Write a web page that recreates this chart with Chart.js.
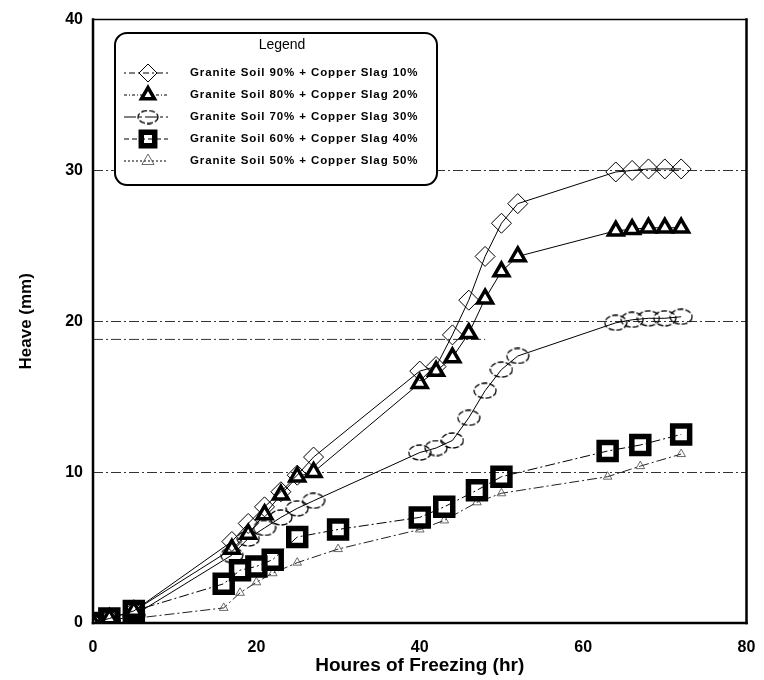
<!DOCTYPE html>
<html lang="en">
<head>
  <meta charset="UTF-8">
  <title>Heave vs Houres of Freezing</title>
  <style>
    html, body { margin: 0; padding: 0; background: #fff; }
    .chartContainer { position: relative; width: 764px; height: 680px; }
  </style>
</head>
<body>
  <div class="chartContainer">
    <canvas id="myChart" width="764" height="680"></canvas>
  </div>
  <script src="https://cdn.jsdelivr.net/npm/chart.js"></script>
  <script>
    // series labels
    const seriesLabels = [
      'Granite Soil 90% + Copper Slag 10%',
      'Granite Soil 80% + Copper Slag 20%',
      'Granite Soil 70% + Copper Slag 30%',
      'Granite Soil 60% + Copper Slag 40%',
      'Granite Soil 50% + Copper Slag 50%'
    ]

    // hours for the 90/10, 80/20 and 70/30 mixes
    const hoursA = [0, 2, 5, 17, 19, 21, 23, 25, 27, 40, 42, 44, 46, 48, 50, 52, 64, 66, 68, 70, 72]
    const heave90 = [0, 0.3, 0.8, 5.4, 6.6, 7.7, 8.7, 9.8, 11.0, 16.7, 17.0, 19.1, 21.4, 24.3, 26.5, 27.8, 29.9, 30.0, 30.1, 30.1, 30.1]
    const heave80 = [0, 0.3, 0.8, 4.9, 5.9, 7.2, 8.5, 9.7, 10.0, 15.9, 16.7, 17.6, 19.2, 21.5, 23.3, 24.3, 26.0, 26.1, 26.2, 26.2, 26.2]
    const heave70 = [0, 0.1, 0.5, 4.5, 5.6, 6.3, 7.0, 7.6, 8.1, 11.3, 11.6, 12.1, 13.6, 15.4, 16.8, 17.7, 19.9, 20.1, 20.2, 20.2, 20.3]

    // hours for the 60/40 and 50/50 mixes
    const hoursB = [0, 2, 5, 16, 18, 20, 22, 25, 30, 40, 43, 47, 50, 63, 67, 72]
    const heave60 = [0, 0.3, 0.8, 2.6, 3.5, 3.75, 4.2, 5.7, 6.2, 7.0, 7.7, 8.8, 9.7, 11.4, 11.8, 12.5]
    const heave50 = [0, 0.05, 0.3, 1.0, 2.0, 2.7, 3.3, 4.0, 4.9, 6.2, 6.8, 8.0, 8.6, 9.7, 10.4, 11.2]

    // stray dash-dot reference line in the original figure
    const strayHours = [0, 48]
    const strayHeave = [18.8, 18.8]

    const xTicks = [0, 20, 40, 60, 80]
    const yTicks = [0, 10, 20, 30, 40]

    const toPoints = (xs, ys) => xs.map((x, i) => ({ x: x, y: ys[i] }))

    // dashed ellipse used as the 70/30 marker
    function makeDashedCircle(w, h) {
      const c = document.createElement('canvas')
      c.width = w
      c.height = h
      const g = c.getContext('2d')
      g.strokeStyle = '#000'
      g.lineWidth = 1.3
      g.setLineDash([6, 2])
      g.beginPath()
      g.ellipse(w / 2, h / 2, w / 2 - 1, h / 2 - 1, 0, 0, Math.PI * 2)
      g.stroke()
      return c
    }
    const circleMark = makeDashedCircle(24, 17)
    const circleMarkSmall = makeDashedCircle(22, 15)

    const dashDot = [10, 3, 2, 3]
    const FONT = "'Liberation Sans', Arial, Helvetica, sans-serif"

    const datasets = [
      {
        label: seriesLabels[0],
        data: toPoints(hoursA, heave90),
        borderColor: '#000', borderWidth: 1,
        pointStyle: 'rectRot', pointRadius: 10,
        pointBorderColor: '#000', pointBorderWidth: 1,
        pointBackgroundColor: 'rgba(255,255,255,0)',
        legendDash: [2, 3, 6, 3], legendRadius: 9
      },
      {
        label: seriesLabels[1],
        data: toPoints(hoursA, heave80),
        borderColor: '#000', borderWidth: 1,
        pointStyle: 'triangle', pointRadius: 8.5,
        pointBorderColor: '#000', pointBorderWidth: 3.5,
        pointBackgroundColor: '#fff',
        legendDash: [3, 2, 1, 2], legendRadius: 7.5
      },
      {
        label: seriesLabels[2],
        data: toPoints(hoursA, heave70),
        borderColor: '#000', borderWidth: 1,
        pointStyle: circleMark, pointRadius: 10,
        legendDash: [12, 3, 3, 3], legendImg: circleMarkSmall
      },
      {
        label: seriesLabels[3],
        data: toPoints(hoursB, heave60),
        borderColor: '#000', borderWidth: 1, borderDash: dashDot,
        pointStyle: 'rect', pointRadius: 12,
        pointBorderColor: '#000', pointBorderWidth: 5.5,
        pointBackgroundColor: 'rgba(255,255,255,0)',
        legendDash: [5, 3], legendRadius: 9.5
      },
      {
        label: seriesLabels[4],
        data: toPoints(hoursB, heave50),
        borderColor: '#222', borderWidth: 1, borderDash: dashDot,
        pointStyle: 'triangle', pointRadius: 5,
        pointBorderColor: '#444', pointBorderWidth: 0.8,
        pointBackgroundColor: 'rgba(255,255,255,0)',
        legendDash: [2, 2], legendRadius: 7
      },
      {
        label: '',
        data: toPoints(strayHours, strayHeave),
        borderColor: '#333', borderWidth: 1, borderDash: dashDot,
        pointRadius: 0, noLegend: true
      }
    ]

    // thick frame round the plot area
    const framePlugin = {
      id: 'frame',
      afterDatasetsDraw(chart) {
        const { ctx, chartArea: a } = chart
        ctx.save()
        ctx.strokeStyle = '#000'
        ctx.lineCap = 'square'
        const side = (w, x1, y1, x2, y2) => {
          ctx.lineWidth = w
          ctx.beginPath(); ctx.moveTo(x1, y1); ctx.lineTo(x2, y2); ctx.stroke()
        }
        side(1.5, a.left, a.top, a.right, a.top)
        side(2.5, a.right, a.top, a.right, a.bottom)
        side(2.5, a.left, a.bottom, a.right, a.bottom)
        side(2.5, a.left, a.top, a.left, a.bottom)
        ctx.restore()
      }
    }

    // rounded legend box inside the plot
    const boxLegend = {
      id: 'boxLegend',
      afterDraw(chart) {
        const { ctx } = chart
        const bx = 115, by = 33, bw = 322, bh = 152
        ctx.save()
        ctx.fillStyle = '#fff'
        ctx.strokeStyle = '#000'
        ctx.lineWidth = 2
        ctx.beginPath()
        ctx.roundRect(bx, by, bw, bh, 12)
        ctx.fill()
        ctx.stroke()

        ctx.fillStyle = '#000'
        ctx.font = '14px ' + FONT
        ctx.textAlign = 'center'
        ctx.textBaseline = 'middle'
        ctx.fillText('Legend', 282, 45)

        const sets = chart.data.datasets.filter(d => !d.noLegend)
        sets.forEach((ds, i) => {
          const y = 73 + i * 22
          ctx.save()
          ctx.strokeStyle = '#000'
          ctx.lineWidth = 1
          ctx.setLineDash(ds.legendDash || [])
          ctx.beginPath(); ctx.moveTo(124, y); ctx.lineTo(168, y); ctx.stroke()
          ctx.setLineDash([])
          if (ds.legendImg) {
            ctx.drawImage(ds.legendImg, 148 - ds.legendImg.width / 2, y - ds.legendImg.height / 2)
          } else if (Chart.helpers && Chart.helpers.drawPoint) {
            ctx.strokeStyle = ds.pointBorderColor
            ctx.fillStyle = ds.pointBackgroundColor
            ctx.lineWidth = ds.pointBorderWidth
            Chart.helpers.drawPoint(ctx, { pointStyle: ds.pointStyle, radius: ds.legendRadius, rotation: 0, borderWidth: ds.pointBorderWidth }, 148, y)
          }
          ctx.restore()

          ctx.fillStyle = '#000'
          ctx.font = 'bold 11.5px ' + FONT
          ctx.textAlign = 'left'
          ctx.textBaseline = 'middle'
          if ('letterSpacing' in ctx) ctx.letterSpacing = '0.9px'
          ctx.fillText(ds.label, 190, y)
        })
        ctx.restore()
      }
    }

    const config = {
      type: 'line',
      data: { datasets: datasets },
      options: {
        responsive: false,
        animation: false,
        events: [],
        layout: { padding: { left: 0, right: 16, top: 14, bottom: 0 } },
        plugins: { legend: { display: false }, tooltip: { enabled: false } },
        elements: { line: { tension: 0 } },
        scales: {
          x: {
            type: 'linear', min: 0, max: 80,
            afterBuildTicks: s => { s.ticks = xTicks.map(v => ({ value: v })) },
            afterFit: s => { s.height = 57 },
            grid: { display: false },
            border: { display: false },
            ticks: { color: '#000', padding: 7, font: { family: FONT, size: 16, weight: 'bold' } },
            title: {
              display: true, text: 'Houres of Freezing (hr)', color: '#000',
              padding: { top: 0, bottom: 3 },
              font: { family: FONT, size: 19, weight: 'bold' }
            }
          },
          y: {
            type: 'linear', min: 0, max: 40,
            afterBuildTicks: s => { s.ticks = yTicks.map(v => ({ value: v })) },
            afterFit: s => { s.width = 93 },
            grid: {
              drawTicks: false,
              color: c => (c.tick.value === 0 || c.tick.value === 40) ? 'rgba(0,0,0,0)' : '#333',
              lineWidth: 1
            },
            border: { display: false, dash: dashDot },
            ticks: { color: '#000', padding: 10, font: { family: FONT, size: 16, weight: 'bold' } },
            title: {
              display: true, text: 'Heave (mm)', color: '#000',
              padding: { top: 16, bottom: 0 },
              font: { family: FONT, size: 17, weight: 'bold' }
            }
          }
        }
      },
      plugins: [framePlugin, boxLegend]
    }

    const myChart = new Chart(document.getElementById('myChart'), config)
  </script>
</body>
</html>
